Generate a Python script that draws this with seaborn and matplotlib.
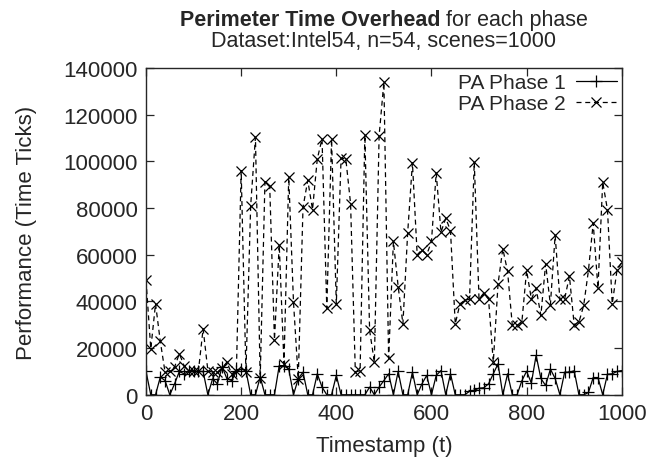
import numpy as np
import pandas as pd
import matplotlib
matplotlib.use("Agg")
import matplotlib.pyplot as plt
import seaborn as sns

# time stamps, one sample every 10 scenes
timestamps = list(range(0, 1001, 10))

phase1 = [
    10000, 0, 0, 7600, 6100, 0, 4700, 10000, 9000, 10000,      # 0-90
    10000, 10000, 10000, 0, 6900, 4700, 12000, 6900, 6100, 10000,  # 100-190
    11000, 10400, 0, 0, 7600, 0, 0, 0, 12500, 12500,          # 200-290
    11000, 0, 6900, 9700, 0, 0, 9000, 3300, 0, 0,             # 300-390
    8300, 0, 0, 0, 0, 0, 0, 3300, 0, 3300,                    # 400-490
    6100, 9000, 0, 10000, 0, 0, 9700, 0, 4700, 8300,          # 500-590
    0, 8300, 10400, 0, 9000, 0, 0, 0, 1500, 2000,             # 600-690
    2800, 3000, 4700, 9000, 13300, 0, 9000, 0, 0, 6000,       # 700-790
    10100, 5000, 16900, 7000, 4000, 11000, 7000, 0, 9700, 9700,  # 800-890
    10300, 0, 0, 1000, 7400, 7400, 0, 8800, 9000, 10000,      # 900-990
    10400,
]

phase2 = [
    49000, 19700, 39000, 22900, 9700, 10100, 11900, 17600, 12500, 10400,
    10400, 10000, 28300, 10400, 9700, 9700, 11400, 14000, 9000, 10400,
    96100, 9700, 81100, 110400, 7100, 91400, 89400, 23600, 64300, 13300,
    93300, 39700, 6900, 80400, 91900, 79400, 101100, 109700, 37100, 109700,
    39000, 101400, 101100, 81900, 9700, 10400, 111400, 27600, 14000, 111100,
    134000, 15700, 65700, 46400, 30400, 69400, 99400, 60000, 62100, 60000,
    65700, 95100, 69700, 75700, 70400, 30400, 39000, 40500, 41000, 99700,
    41000, 43600, 41000, 14000, 47600, 62600, 52900, 29700, 29700, 31100,
    53300, 41000, 45600, 34000, 56100, 38600, 68300, 40900, 41100, 50900,
    30000, 31100, 38300, 53300, 73600, 45700, 91100, 79300, 39000, 53300,
    56900,
]

series_names = ["PA Phase 1", "PA Phase 2"]

sns.set_style("ticks")
plt.rcParams["font.family"] = ["Liberation Sans", "DejaVu Sans"]
plt.rcParams["xtick.direction"] = "in"
plt.rcParams["ytick.direction"] = "in"
plt.rcParams["xtick.top"] = True
plt.rcParams["ytick.right"] = True

fig = plt.figure(figsize=(6.49, 4.64), dpi=100)
ax = fig.add_axes([0.225, 0.147, 0.733, 0.704])

sns.lineplot(x=timestamps, y=phase1, color="black", linestyle="-", marker="+",
             markersize=8, markeredgewidth=0.9, markeredgecolor="black",
             linewidth=0.9, label=series_names[0], ax=ax)
sns.lineplot(x=timestamps, y=phase2, color="black", linestyle=(0, (4, 3)), marker="x",
             markersize=7, markeredgewidth=0.9, markeredgecolor="black",
             linewidth=0.9, label=series_names[1], ax=ax)

ax.set_xlim(0, 1000)
ax.set_ylim(0, 140000)
ax.set_xticks([0, 200, 400, 600, 800, 1000])
ax.set_yticks(range(0, 140001, 20000))
ax.tick_params(length=6, width=0.9, labelsize=16, pad=6)
for s in ax.spines.values():
    s.set_linewidth(1.0)
    s.set_visible(True)

ax.set_xlabel("Timestamp (t)", fontsize=16, labelpad=8)
ax.set_ylabel("Performance (Time Ticks)", fontsize=16, labelpad=19)

leg = ax.legend(
    loc="upper right", frameon=False, markerfirst=False, fontsize=15,
    handlelength=1.95, handletextpad=0.5, borderpad=0.0, borderaxespad=0.25,
    labelspacing=0.1,
)

# two-part title: bold lead followed by regular text
fig.canvas.draw()
renderer = fig.canvas.get_renderer()
cx = 0.225 + 0.733 / 2
t_bold = fig.text(0, 0.955, "Perimeter Time Overhead", fontsize=15.5, fontweight="bold",
                  ha="left", va="center")
t_reg = fig.text(0, 0.955, " for each phase", fontsize=15.5, ha="left", va="center")
wb = t_bold.get_window_extent(renderer).width / fig.bbox.width
wr = t_reg.get_window_extent(renderer).width / fig.bbox.width
x0 = cx - (wb + wr) / 2
t_bold.set_x(x0)
t_reg.set_x(x0 + wb)
fig.text(cx, 0.91, "Dataset:Intel54, n=54, scenes=1000", fontsize=15.5, ha="center", va="center")

fig.savefig("out.png", dpi=100)
